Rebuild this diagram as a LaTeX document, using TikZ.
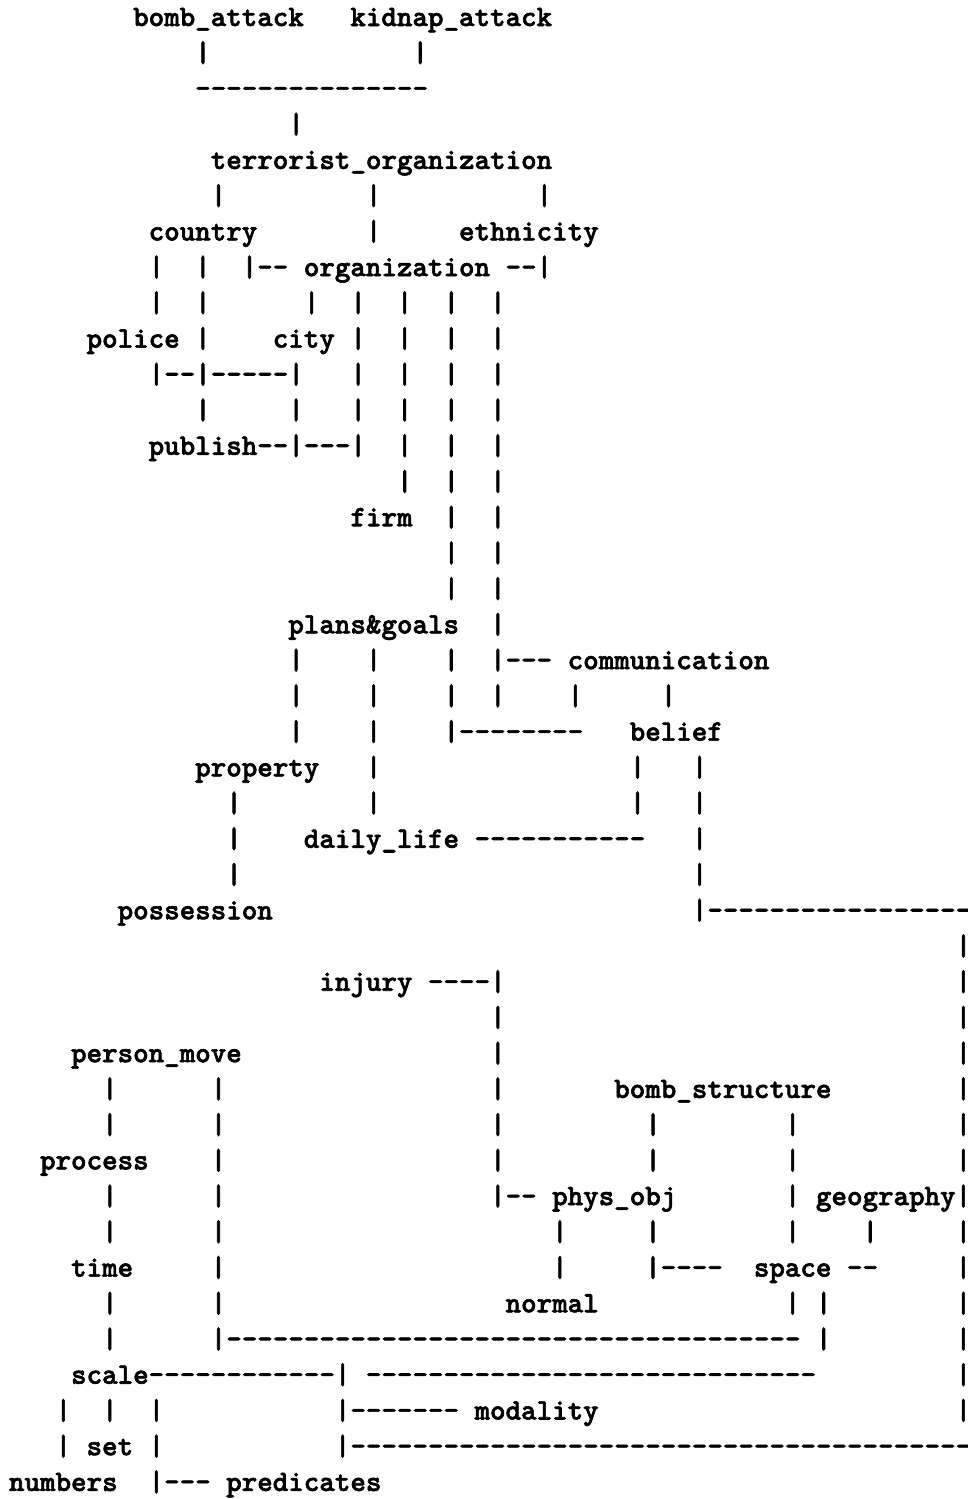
\documentclass[tikz,border=0pt]{standalone}
\usepackage{fontspec}
\newfontfamily\monob{lmmonolt10-bold.otf}[FakeBold=2]
\newcount\dcnt
\newcommand\dsh[1]{\dcnt=#1\relax\loop\ifnum\dcnt>0 -\relax\advance\dcnt by -1\relax\repeat}
\newcommand\gap[1]{\kern#1\dimexpr0.525em\relax}
\tikzset{
  row/.style={anchor=base west, inner sep=0pt, outer sep=0pt,
    font={\monob\fontsize{29.56pt}{35.73pt}\selectfont}}
}
\begin{document}
\begin{tikzpicture}
\useasboundingbox[fill=white] (0pt,0pt) rectangle (968pt,-1499pt);
\begin{scope}[x=15.52pt, y=-35.73pt, shift={(9pt,-26pt)}]
\node[row] (r1) at (8,0) {bomb\_attack\gap{3}kidnap\_attack};
\node[row] (r2) at (12,1) {|\gap{13}|};
\node[row] (r3) at (12,2) {\dsh{15}};
\node[row] (r4) at (18,3) {|};
\node[row] (r5) at (13,4) {terrorist\_organization};
\node[row] (r6) at (13,5) {|\gap{9}|\gap{10}|};
\node[row] (r7) at (9,6) {country\gap{7}|\gap{5}ethnicity};
\node[row] (r8) at (9,7) {|\gap{2}|\gap{2}|\dsh{2}\gap{1}organization\gap{1}\dsh{2}|};
\node[row] (r9) at (9,8) {|\gap{2}|\gap{6}|\gap{2}|\gap{2}|\gap{2}|\gap{2}|};
\node[row] (r10) at (5,9) {police\gap{1}|\gap{4}city\gap{1}|\gap{2}|\gap{2}|\gap{2}|};
\node[row] (r11) at (9,10) {|\dsh{2}|\dsh{5}|\gap{3}|\gap{2}|\gap{2}|\gap{2}|};
\node[row] (r12) at (12,11) {|\gap{5}|\gap{3}|\gap{2}|\gap{2}|\gap{2}|};
\node[row] (r13) at (9,12) {publish\dsh{2}|\dsh{3}|\gap{2}|\gap{2}|\gap{2}|};
\node[row] (r14) at (25,13) {|\gap{2}|\gap{2}|};
\node[row] (r15) at (22,14) {firm\gap{2}|\gap{2}|};
\node[row] (r16) at (28,15) {|\gap{2}|};
\node[row] (r17) at (28,16) {|\gap{2}|};
\node[row] (r18) at (18,17) {plans\&goals\gap{2}|};
\node[row] (r19) at (18,18) {|\gap{4}|\gap{4}|\gap{2}|\dsh{3}\gap{1}communication};
\node[row] (r20) at (18,19) {|\gap{4}|\gap{4}|\gap{2}|\gap{4}|\gap{5}|};
\node[row] (r21) at (18,20) {|\gap{4}|\gap{4}|\dsh{8}\gap{3}belief};
\node[row] (r22) at (12,21) {property\gap{3}|\gap{16}|\gap{3}|};
\node[row] (r23) at (14,22) {|\gap{8}|\gap{16}|\gap{3}|};
\node[row] (r24) at (14,23) {|\gap{4}daily\_life\gap{1}\dsh{11}\gap{3}|};
\node[row] (r25) at (14,24) {|\gap{29}|};
\node[row] (r26) at (7,25) {possession\gap{27}|\dsh{17}};
\node[row] (r27) at (61,26) {|};
\node[row] (r28) at (20,27) {injury\gap{1}\dsh{4}|\gap{29}|};
\node[row] (r29) at (31,28) {|\gap{29}|};
\node[row] (r30) at (4,29) {person\_move\gap{16}|\gap{29}|};
\node[row] (r31) at (6,30) {|\gap{6}|\gap{17}|\gap{7}bomb\_structure\gap{8}|};
\node[row] (r32) at (6,31) {|\gap{6}|\gap{17}|\gap{9}|\gap{8}|\gap{10}|};
\node[row] (r33) at (2,32) {process\gap{4}|\gap{17}|\gap{9}|\gap{8}|\gap{10}|};
\node[row] (r34) at (6,33) {|\gap{6}|\gap{17}|\dsh{2}\gap{1}phys\_obj\gap{7}|\gap{1}geography|};
\node[row] (r35) at (6,34) {|\gap{6}|\gap{21}|\gap{5}|\gap{8}|\gap{4}|\gap{5}|};
\node[row] (r36) at (4,35) {time\gap{5}|\gap{21}|\gap{5}|\dsh{4}\gap{2}space\gap{1}\dsh{2}\gap{5}|};
\node[row] (r37) at (6,36) {|\gap{6}|\gap{18}normal\gap{12}|\gap{1}|\gap{8}|};
\node[row] (r38) at (6,37) {|\gap{6}|\dsh{37}\gap{1}|\gap{8}|};
\node[row] (r39) at (4,38) {scale\dsh{12}|\gap{1}\dsh{29}\gap{9}|};
\node[row] (r40) at (3,39) {|\gap{2}|\gap{2}|\gap{11}|\dsh{7}\gap{1}modality\gap{23}|};
\node[row] (r41) at (3,40) {|\gap{1}set\gap{1}|\gap{11}|\dsh{40}};
\node[row] (r42) at (0,41) {numbers\gap{2}|\dsh{3}\gap{1}predicates};
\end{scope}
\end{tikzpicture}
\end{document}
